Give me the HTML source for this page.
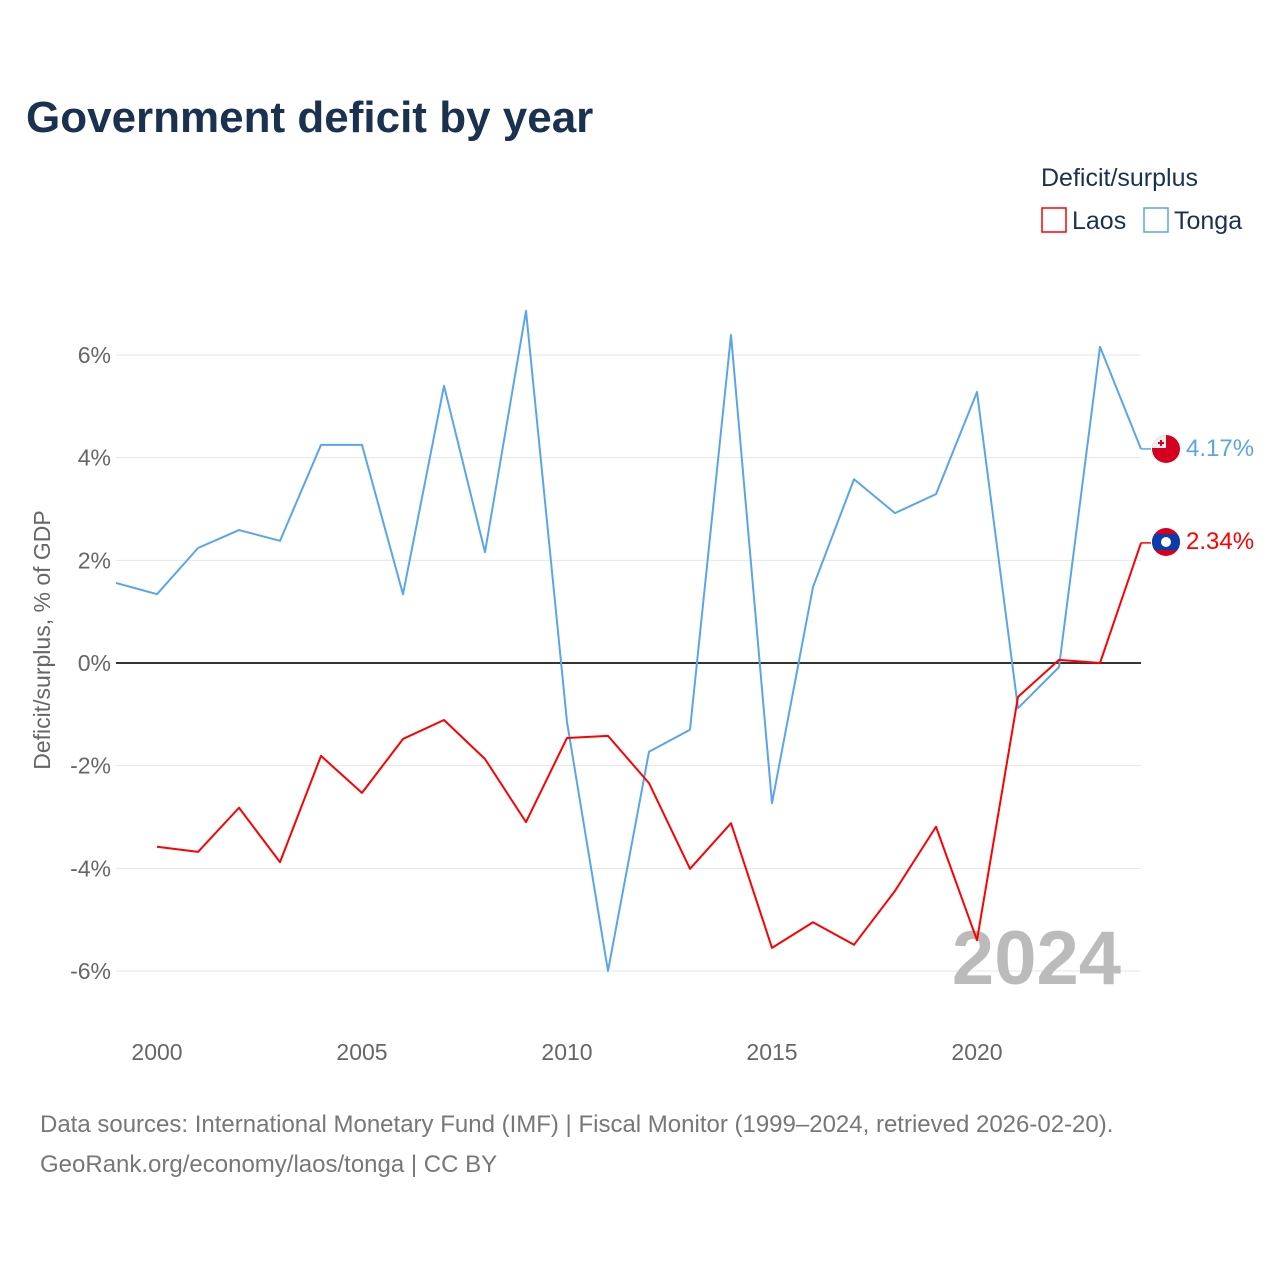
<!DOCTYPE html>
<html><head><meta charset="utf-8">
<style>
body{margin:0;background:#fff;font-family:"Liberation Sans",sans-serif;}
#wrap{position:relative;width:1280px;height:1280px;overflow:hidden;}
</style></head>
<body>
<div id="wrap">
<svg id="chart" width="1280" height="1280">
  <text x="26" y="132" font-size="44" font-weight="bold" fill="#1a3150">Government deficit by year</text>
  <text x="1041" y="186" font-size="25" fill="#1a3150">Deficit/surplus</text>
  <g>
    <rect x="1042" y="208" width="24" height="24" fill="#fff" stroke="#ff0000" stroke-width="1.5"/>
    <text x="1072" y="229" font-size="25" fill="#1a3150">Laos</text>
  </g>
  <g>
    <rect x="1144" y="208" width="24" height="24" fill="#fff" stroke="#5aa5ea" stroke-width="1.5"/>
    <text x="1174" y="229" font-size="25" fill="#1a3150">Tonga</text>
  </g>
  <text transform="translate(50,640) rotate(-90)" text-anchor="middle" font-size="23" fill="#666">Deficit/surplus, % of GDP</text>
  <g id="grid"></g>
  <g id="xticks"></g>
  <text x="1121" y="984" text-anchor="end" font-size="76" font-weight="bold" fill="#bbb">2024</text>
  <g id="series"></g>
  <g>
    <clipPath id="c1"><circle cx="1166" cy="449" r="14"/></clipPath>
    <g clip-path="url(#c1)"><rect x="1150" y="433" width="32" height="32" fill="#d5001f"/><rect x="1150" y="433" width="16" height="15" fill="#eee"/><rect x="1160" y="440" width="2" height="6" fill="#d5001f"/><rect x="1158" y="442" width="6" height="2" fill="#d5001f"/></g>
  </g>
  <g>
    <clipPath id="c2"><circle cx="1166" cy="542" r="14"/></clipPath>
    <g clip-path="url(#c2)"><rect x="1150" y="526" width="32" height="32" fill="#d5001f"/><rect x="1150" y="534" width="32" height="16" fill="#0a3da8"/><circle cx="1166" cy="542" r="5" fill="#fff"/></g>
  </g>
  <text x="1186" y="456" font-size="24" fill="#5aa5ea">4.17%</text>
  <text x="1186" y="549" font-size="24" fill="#ff0000">2.34%</text>
  <text x="40" y="1132" font-size="24" fill="#777">Data sources: International Monetary Fund (IMF) | Fiscal Monitor (1999–2024, retrieved 2026-02-20).</text>
  <text x="40" y="1172" font-size="24" fill="#777">GeoRank.org/economy/laos/tonga | CC BY</text>
</svg>
</div>
<script>
const tongaYears=[1999,2000,2001,2002,2003,2004,2005,2006,2007,2008,2009,2010,2011,2012,2013,2014,2015,2016,2017,2018,2019,2020,2021,2022,2023,2024];
const tongaValues=[1.56,1.34,2.24,2.59,2.38,4.25,4.25,1.34,5.40,2.16,6.86,-1.15,-6.0,-1.73,-1.3,6.39,-2.73,1.48,3.58,2.92,3.29,5.28,-0.88,-0.08,6.16,4.17];
const laosYears=[2000,2001,2002,2003,2004,2005,2006,2007,2008,2009,2010,2011,2012,2013,2014,2015,2016,2017,2018,2019,2020,2021,2022,2023,2024];
const laosValues=[-3.58,-3.68,-2.82,-3.88,-1.81,-2.53,-1.48,-1.11,-1.87,-3.10,-1.46,-1.42,-2.34,-4.01,-3.12,-5.55,-5.05,-5.49,-4.44,-3.19,-5.40,-0.66,0.06,0,2.34];
const yTicks=[-6,-4,-2,0,2,4,6];
const xTicks=[2000,2005,2010,2015,2020];

const NS="http://www.w3.org/2000/svg";
const X=y=>157+(y-2000)*41;
const Y=v=>663-v*51.33;
function mk(tag,attrs,parent){const e=document.createElementNS(NS,tag);for(const k in attrs)e.setAttribute(k,attrs[k]);parent.appendChild(e);return e;}
const grid=document.getElementById('grid');
yTicks.forEach(t=>{
  const l=mk('line',{x1:116,x2:1141,y1:Y(t),y2:Y(t),stroke:t===0?'#333':'#e6e6e6','stroke-width':t===0?2:1},grid);
  
  
  const tx=mk('text',{x:111,y:Y(t)+8,'text-anchor':'end','font-size':23,fill:'#666'},grid);
  tx.textContent=t+'%';
  
  
});
const xg=document.getElementById('xticks');
xTicks.forEach(t=>{
  const tx=mk('text',{x:X(t),y:1060,'text-anchor':'middle','font-size':23,fill:'#666'},xg);
  tx.textContent=t;
  
  
});
const sg=document.getElementById('series');
function line(years,vals,color,name){
  const p=mk('polyline',{points:years.map((y,i)=>X(y)+','+Y(vals[i])).join(' '),fill:'none',stroke:color,'stroke-width':2,'stroke-linejoin':'round'},sg);
  
  
  const last=vals[vals.length-1];
  const c=mk('line',{x1:X(years[years.length-1]),x2:1151,y1:Y(last),y2:Y(last),stroke:color,'stroke-width':1.5},sg);
  
  
}
line(tongaYears,tongaValues,'#5aa5ea','tonga-line');
line(laosYears,laosValues,'#ff0000','laos-line');
</script>
</body></html>
